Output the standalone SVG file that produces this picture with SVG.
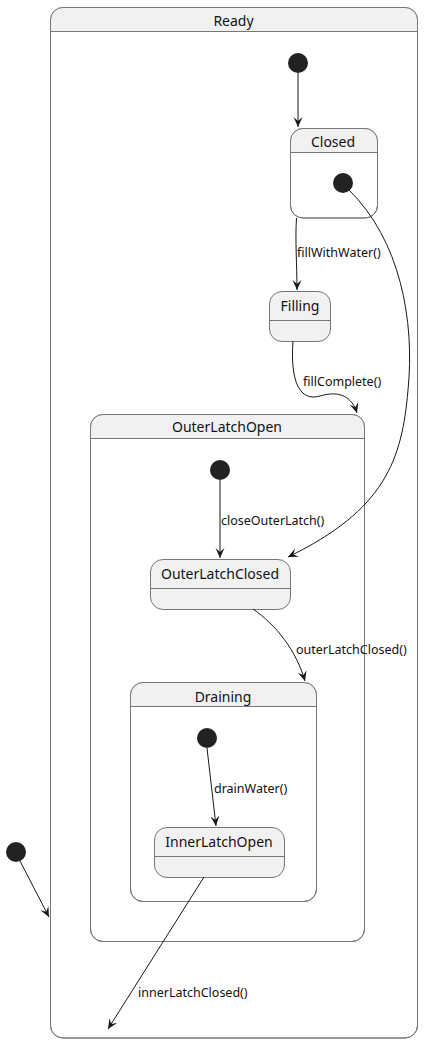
<svg xmlns="http://www.w3.org/2000/svg" width="427" height="1043" viewBox="0 0 427 1043">
<style>
.box{stroke:#777;stroke-width:1;}
.body{fill:#fff;}
.hd{fill:#F1F1F1;}
.st{fill:#F1F1F1;}
.sep{stroke:#777;stroke-width:1;fill:none;}
.init{fill:#222;}
.title{font-family:"Noto Sans",sans-serif;font-size:14px;fill:#111;text-anchor:middle;}
.lbl{font-family:"Noto Sans",sans-serif;font-size:12.5px;fill:#111;}
.edge{fill:none;stroke:#181818;stroke-width:1;marker-end:url(#arr);}
</style>
<defs>
<marker id="arr" markerUnits="userSpaceOnUse" markerWidth="12" markerHeight="12" refX="10" refY="5" orient="auto" viewBox="0 0 12 10">
<path d="M0,0.5 L10,5 L0,9.5 L4,5 Z" fill="#181818"/>
</marker>
</defs>
<g id="Ready">
<rect class="box body" x="50.5" y="7.5" width="367" height="1030.5" rx="12.5"/>
<path class="hd" d="M50.5,31.5 L50.5,20 A12.5,12.5 0 0 1 63,7.5 L405,7.5 A12.5,12.5 0 0 1 417.5,20 L417.5,31.5 Z"/>
<rect class="box" fill="none" x="50.5" y="7.5" width="367" height="1030.5" rx="12.5"/>
<line class="sep" x1="50.5" y1="31.5" x2="417.5" y2="31.5"/>
<text class="title" x="233.5" y="26">Ready</text>
</g>
<g id="ReadyInit"><circle class="init" cx="298" cy="63" r="10"/></g>
<g id="Closed">
<rect class="box body" x="290.5" y="128.5" width="87" height="89.5" rx="12.5"/>
<path class="hd" d="M290.5,152.5 L290.5,141 A12.5,12.5 0 0 1 303,128.5 L365,128.5 A12.5,12.5 0 0 1 377.5,141 L377.5,152.5 Z"/>
<rect class="box" fill="none" x="290.5" y="128.5" width="87" height="89.5" rx="12.5"/>
<line class="sep" x1="290.5" y1="152.5" x2="377.5" y2="152.5"/>
<text class="title" x="333" y="147">Closed</text>
</g>
<g id="ClosedInit"><circle class="init" cx="343" cy="183" r="10"/></g>
<g id="Filling">
<rect class="box st" x="269.5" y="291.5" width="61" height="50" rx="12.5"/>
<line class="sep" x1="269.5" y1="320.5" x2="330.5" y2="320.5"/>
<text class="title" x="300" y="311">Filling</text>
</g>
<g id="OuterLatchOpen">
<rect class="box body" x="90.5" y="414.5" width="274" height="527" rx="12.5"/>
<path class="hd" d="M90.5,438.5 L90.5,427 A12.5,12.5 0 0 1 103,414.5 L352,414.5 A12.5,12.5 0 0 1 364.5,427 L364.5,438.5 Z"/>
<rect class="box" fill="none" x="90.5" y="414.5" width="274" height="527" rx="12.5"/>
<line class="sep" x1="90.5" y1="438.5" x2="364.5" y2="438.5"/>
<text class="title" x="227" y="432">OuterLatchOpen</text>
</g>
<g id="OuterInit"><circle class="init" cx="220" cy="470" r="10"/></g>
<g id="OuterLatchClosed">
<rect class="box st" x="150.5" y="559.5" width="140" height="50" rx="12.5"/>
<line class="sep" x1="150.5" y1="588.5" x2="290.5" y2="588.5"/>
<text class="title" x="220" y="579">OuterLatchClosed</text>
</g>
<g id="Draining">
<rect class="box body" x="130.5" y="682.5" width="186" height="219" rx="12.5"/>
<path class="hd" d="M130.5,706.5 L130.5,695 A12.5,12.5 0 0 1 143,682.5 L304,682.5 A12.5,12.5 0 0 1 316.5,695 L316.5,706.5 Z"/>
<rect class="box" fill="none" x="130.5" y="682.5" width="186" height="219" rx="12.5"/>
<line class="sep" x1="130.5" y1="706.5" x2="316.5" y2="706.5"/>
<text class="title" x="223" y="702">Draining</text>
</g>
<g id="DrainInit"><circle class="init" cx="207" cy="738" r="10"/></g>
<g id="InnerLatchOpen">
<rect class="box st" x="154.5" y="827.5" width="130" height="50" rx="12.5"/>
<line class="sep" x1="154.5" y1="856.5" x2="284.5" y2="856.5"/>
<text class="title" x="219" y="847">InnerLatchOpen</text>
</g>
<g id="TopInit"><circle class="init" cx="16" cy="852" r="10"/></g>
<g id="connectors">
<path class="edge" d="M298,73 L298,127"/>
<path class="edge" d="M296.5,218 C295,240 297,265 297,290"/>
<path class="edge" d="M349,190 C400,240 415,320 408,390 C402,460 385,510 288,557"/>
<path class="edge" d="M293,341 C290,382 300,402 320,396 C340,390 352,397 357,413"/>
<path class="edge" d="M220,480 L220,558"/>
<path class="edge" d="M253,609 C276,625 296,650 305,681"/>
<path class="edge" d="M207,748 L216,826"/>
<path class="edge" d="M204,877 L108,1029"/>
<path class="edge" d="M20,861 L49,917"/>
</g>
<g id="labels">
<text class="lbl" x="297" y="257">fillWithWater()</text>
<text class="lbl" x="303" y="386">fillComplete()</text>
<text class="lbl" x="221" y="525">closeOuterLatch()</text>
<text class="lbl" x="296" y="654">outerLatchClosed()</text>
<text class="lbl" x="214" y="793">drainWater()</text>
<text class="lbl" x="138" y="997">innerLatchClosed()</text>
</g>
</svg>
